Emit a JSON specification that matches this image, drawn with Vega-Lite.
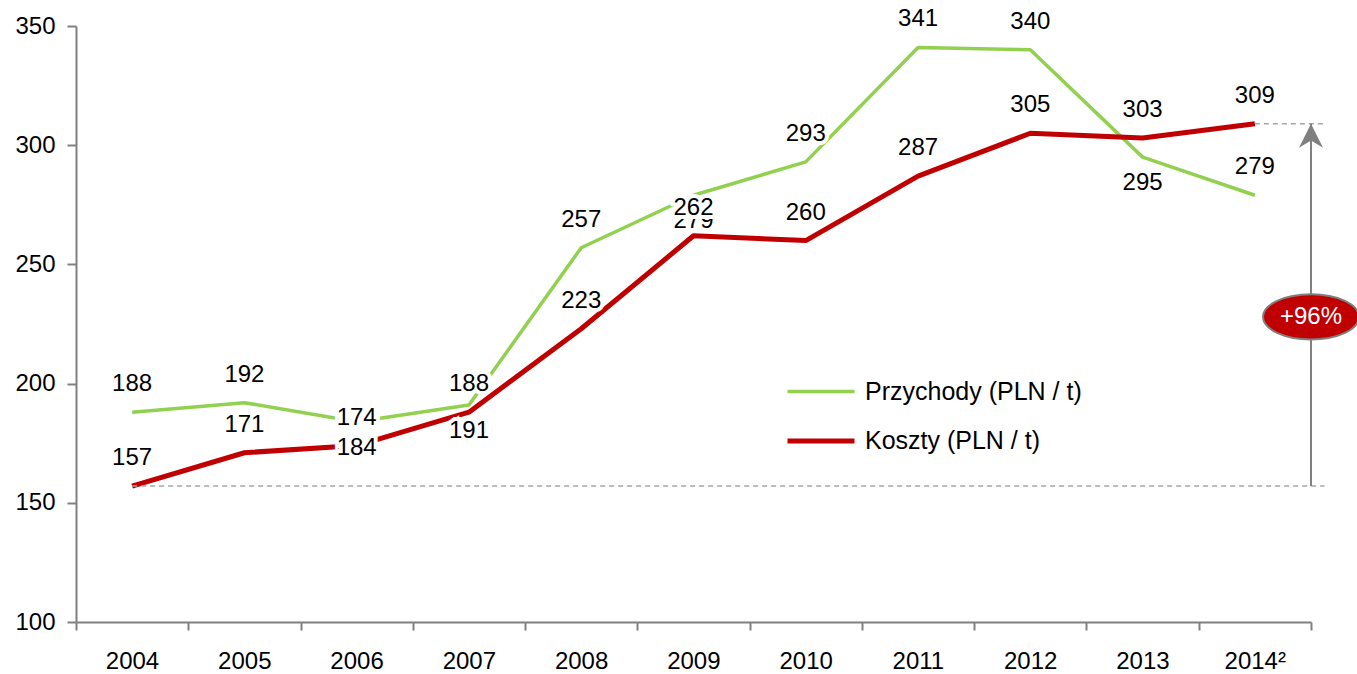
{
  "$schema": "https://vega.github.io/schema/vega-lite/v6.json",
  "width": 1235,
  "height": 596,
  "autosize": {"type": "none"},
  "padding": {"left": 76, "top": 26, "right": 46, "bottom": 52},
  "config": {
    "view": {"stroke": null},
    "font": "Liberation Sans",
    "axis": {
      "grid": false,
      "domainColor": "#808080",
      "domainWidth": 2,
      "tickColor": "#808080",
      "tickWidth": 2,
      "labelColor": "#000000",
      "labelFontSize": 24,
      "labelFont": "Liberation Sans",
      "title": null
    },
    "legend": {
      "orient": "none",
      "legendX": 709,
      "legendY": 330,
      "symbolType": "stroke",
      "symbolSize": 4489,
      "labelFontSize": 25,
      "labelFont": "Liberation Sans",
      "labelColor": "#000000",
      "labelOffset": 8,
      "labelLimit": 0,
      "rowPadding": -33
    }
  },
  "datasets": {
    "series": [
      {"year": 2004, "series": "Przychody (PLN / t)", "value": 188},
      {"year": 2005, "series": "Przychody (PLN / t)", "value": 192},
      {"year": 2006, "series": "Przychody (PLN / t)", "value": 184},
      {"year": 2007, "series": "Przychody (PLN / t)", "value": 191},
      {"year": 2008, "series": "Przychody (PLN / t)", "value": 257},
      {"year": 2009, "series": "Przychody (PLN / t)", "value": 279},
      {"year": 2010, "series": "Przychody (PLN / t)", "value": 293},
      {"year": 2011, "series": "Przychody (PLN / t)", "value": 341},
      {"year": 2012, "series": "Przychody (PLN / t)", "value": 340},
      {"year": 2013, "series": "Przychody (PLN / t)", "value": 295},
      {"year": 2014, "series": "Przychody (PLN / t)", "value": 279},
      {"year": 2004, "series": "Koszty (PLN / t)", "value": 157},
      {"year": 2005, "series": "Koszty (PLN / t)", "value": 171},
      {"year": 2006, "series": "Koszty (PLN / t)", "value": 174},
      {"year": 2007, "series": "Koszty (PLN / t)", "value": 188},
      {"year": 2008, "series": "Koszty (PLN / t)", "value": 223},
      {"year": 2009, "series": "Koszty (PLN / t)", "value": 262},
      {"year": 2010, "series": "Koszty (PLN / t)", "value": 260},
      {"year": 2011, "series": "Koszty (PLN / t)", "value": 287},
      {"year": 2012, "series": "Koszty (PLN / t)", "value": 305},
      {"year": 2013, "series": "Koszty (PLN / t)", "value": 303},
      {"year": 2014, "series": "Koszty (PLN / t)", "value": 309}
    ],
    "growth": [
      {"startYear": 2004, "endYear": 2014, "from": 157, "to": 309, "label": "+96%"}
    ]
  },
  "layer": [
    {
      "data": {"name": "series"},
      "mark": {"type": "line", "strokeCap": "butt", "strokeJoin": "round"},
      "encoding": {
        "x": {
          "field": "year",
          "type": "quantitative",
          "scale": {"domain": [2003.5, 2014.5], "nice": false, "zero": false},
          "axis": {
            "values": [2003.5, 2004.5, 2005.5, 2006.5, 2007.5, 2008.5, 2009.5, 2010.5, 2011.5, 2012.5, 2013.5, 2014.5],
            "labelExpr": "datum.value > 2014 ? '' : (datum.value > 2013 ? '2014²' : format(datum.value + 0.5, 'd'))",
            "labelOffset": 56,
            "tickSize": 8,
            "labelPadding": 19,
            "labelFlush": false,
            "labelOverlap": false,
            "labelBound": false
          }
        },
        "y": {
          "field": "value",
          "type": "quantitative",
          "scale": {"domain": [100, 350], "nice": false, "zero": false},
          "axis": {
            "values": [100, 150, 200, 250, 300, 350],
            "tickSize": 9,
            "labelPadding": 12
          }
        },
        "color": {
          "field": "series",
          "type": "nominal",
          "scale": {"domain": ["Przychody (PLN / t)", "Koszty (PLN / t)"], "range": ["#92D050", "#C00000"]},
          "legend": {"title": null}
        },
        "strokeWidth": {
          "field": "series",
          "type": "nominal",
          "scale": {"domain": ["Przychody (PLN / t)", "Koszty (PLN / t)"], "range": [3.5, 5]},
          "legend": {"title": null}
        }
      }
    },
    {
      "data": {"name": "growth"},
      "mark": {"type": "rule", "color": "#A6A6A6", "strokeWidth": 1.5, "strokeDash": [5, 4]},
      "encoding": {
        "x": {"field": "startYear", "type": "quantitative"},
        "x2": {"datum": 2014.62},
        "y": {"field": "from", "type": "quantitative"}
      }
    },
    {
      "data": {"name": "growth"},
      "mark": {"type": "rule", "color": "#A6A6A6", "strokeWidth": 1.5, "strokeDash": [5, 4]},
      "encoding": {
        "x": {"field": "endYear", "type": "quantitative"},
        "x2": {"datum": 2014.62},
        "y": {"field": "to", "type": "quantitative"}
      }
    },
    {
      "data": {"name": "growth"},
      "mark": {"type": "rule", "color": "#808080", "strokeWidth": 2},
      "encoding": {
        "x": {"datum": 2014.5},
        "y": {"field": "from", "type": "quantitative"},
        "y2": {"field": "to"}
      }
    },
    {
      "data": {"name": "growth"},
      "mark": {"type": "point", "shape": "M0,0L1,2L0,1.4L-1,2Z", "size": 576, "filled": true, "color": "#808080", "opacity": 1},
      "encoding": {
        "x": {"datum": 2014.5},
        "y": {"field": "to", "type": "quantitative"}
      }
    },
    {
      "data": {"name": "series"},
      "transform": [{"filter": "datum.series == 'Przychody (PLN / t)' && indexof([2006, 2007, 2009, 2013], datum.year) < 0"}],
      "mark": {"type": "text", "dy": -28, "fontSize": 24, "color": "white", "stroke": "white", "strokeWidth": 8, "baseline": "middle", "align": "center"},
      "encoding": {"x": {"field": "year", "type": "quantitative"}, "y": {"field": "value", "type": "quantitative"}, "text": {"field": "value", "type": "quantitative"}}
    },
    {
      "data": {"name": "series"},
      "transform": [{"filter": "datum.series == 'Przychody (PLN / t)' && indexof([2006, 2007, 2009, 2013], datum.year) < 0"}],
      "mark": {"type": "text", "dy": -28, "fontSize": 24, "color": "black", "baseline": "middle", "align": "center"},
      "encoding": {"x": {"field": "year", "type": "quantitative"}, "y": {"field": "value", "type": "quantitative"}, "text": {"field": "value", "type": "quantitative"}}
    },
    {
      "data": {"name": "series"},
      "transform": [{"filter": "datum.series == 'Przychody (PLN / t)' && indexof([2006, 2007, 2009, 2013], datum.year) >= 0"}],
      "mark": {"type": "text", "dy": 26, "fontSize": 24, "color": "white", "stroke": "white", "strokeWidth": 8, "baseline": "middle", "align": "center"},
      "encoding": {"x": {"field": "year", "type": "quantitative"}, "y": {"field": "value", "type": "quantitative"}, "text": {"field": "value", "type": "quantitative"}}
    },
    {
      "data": {"name": "series"},
      "transform": [{"filter": "datum.series == 'Przychody (PLN / t)' && indexof([2006, 2007, 2009, 2013], datum.year) >= 0"}],
      "mark": {"type": "text", "dy": 26, "fontSize": 24, "color": "black", "baseline": "middle", "align": "center"},
      "encoding": {"x": {"field": "year", "type": "quantitative"}, "y": {"field": "value", "type": "quantitative"}, "text": {"field": "value", "type": "quantitative"}}
    },
    {
      "data": {"name": "series"},
      "transform": [{"filter": "datum.series == 'Koszty (PLN / t)'"}],
      "mark": {"type": "text", "dy": -28, "fontSize": 24, "color": "white", "stroke": "white", "strokeWidth": 8, "baseline": "middle", "align": "center"},
      "encoding": {"x": {"field": "year", "type": "quantitative"}, "y": {"field": "value", "type": "quantitative"}, "text": {"field": "value", "type": "quantitative"}}
    },
    {
      "data": {"name": "series"},
      "transform": [{"filter": "datum.series == 'Koszty (PLN / t)'"}],
      "mark": {"type": "text", "dy": -28, "fontSize": 24, "color": "black", "baseline": "middle", "align": "center"},
      "encoding": {"x": {"field": "year", "type": "quantitative"}, "y": {"field": "value", "type": "quantitative"}, "text": {"field": "value", "type": "quantitative"}}
    },
    {
      "data": {"name": "growth"},
      "mark": {"type": "point", "shape": "M-1,0A1,0.47,0,1,0,1,0A1,0.47,0,1,0,-1,0Z", "size": 9216, "filled": true, "fill": "#C00000", "stroke": "#808080", "strokeWidth": 2, "opacity": 1},
      "encoding": {
        "x": {"datum": 2014.5},
        "y": {"datum": 228}
      }
    },
    {
      "data": {"name": "growth"},
      "mark": {"type": "text", "fontSize": 24, "color": "white", "baseline": "middle", "align": "center"},
      "encoding": {
        "x": {"datum": 2014.5},
        "y": {"datum": 228},
        "text": {"field": "label"}
      }
    }
  ]
}
